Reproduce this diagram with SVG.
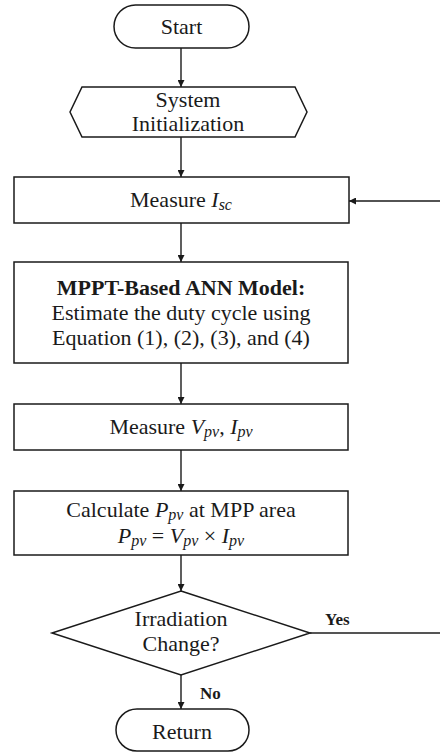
<svg xmlns="http://www.w3.org/2000/svg" width="440" height="752" viewBox="0 0 440 752">
<style>
.shape{fill:#fff;stroke:#1a1a1a;stroke-width:1.5}
.t{font-family:"Liberation Serif","Times New Roman",serif;font-size:22px;fill:#1a1a1a;text-anchor:middle}
.b{font-weight:bold}
.i{font-style:italic}
.s{font-style:italic;font-size:16px}
.lbl{font-family:"Liberation Serif","Times New Roman",serif;font-size:17px;font-weight:bold;fill:#1a1a1a}
.c{fill:none;stroke:#1a1a1a;stroke-width:1.4}
</style>
<defs>
<marker id="ah" viewBox="0 0 10 10" refX="10" refY="5" markerWidth="7" markerHeight="7" markerUnits="userSpaceOnUse" orient="auto">
<path d="M0,0 L10,5 L0,10 z" fill="#1a1a1a"/>
</marker>
</defs>
<rect width="440" height="752" fill="#fff"/>
<g id="connectors">
<line class="c" x1="181" y1="48" x2="181" y2="87" marker-end="url(#ah)"/>
<line class="c" x1="181" y1="137" x2="181" y2="177" marker-end="url(#ah)"/>
<line class="c" x1="181" y1="223" x2="181" y2="262" marker-end="url(#ah)"/>
<line class="c" x1="181" y1="363" x2="181" y2="404" marker-end="url(#ah)"/>
<line class="c" x1="181" y1="450" x2="181" y2="491" marker-end="url(#ah)"/>
<line class="c" x1="181" y1="555" x2="181" y2="591" marker-end="url(#ah)"/>
<line class="c" x1="181" y1="675" x2="181" y2="709" marker-end="url(#ah)"/>
<line class="c" x1="440" y1="201" x2="349" y2="201" marker-end="url(#ah)"/>
<line x1="310" y1="633" x2="440" y2="633" stroke="#555" stroke-width="2"/>
<text class="lbl" x="325" y="625">Yes</text>
<text class="lbl" x="200" y="699">No</text>
</g>
<g id="start">
<rect class="shape" x="114" y="5" width="135" height="43" rx="21.5"/>
<text class="t" x="181.5" y="34">Start</text>
</g>
<g id="init">
<polygon class="shape" points="82,87 295,87 307,112 295,137 82,137 70,112"/>
<text class="t" x="188" y="107">System</text>
<text class="t" x="188" y="131">Initialization</text>
</g>
<g id="measure-isc">
<rect class="shape" x="14" y="177" width="335" height="46"/>
<text class="t" x="181" y="207">Measure <tspan class="i">I</tspan><tspan class="s" dy="3">sc</tspan></text>
</g>
<g id="ann">
<rect class="shape" x="14" y="262" width="334" height="101"/>
<text class="t b" x="181" y="295">MPPT-Based ANN Model:</text>
<text class="t" x="181" y="320">Estimate the duty cycle using</text>
<text class="t" x="181" y="345">Equation (1), (2), (3), and (4)</text>
</g>
<g id="measure-vi">
<rect class="shape" x="14" y="404" width="334" height="46"/>
<text class="t" x="181" y="434">Measure <tspan class="i">V</tspan><tspan class="s" dy="3">pv</tspan><tspan dy="-3">, </tspan><tspan class="i">I</tspan><tspan class="s" dy="3">pv</tspan></text>
</g>
<g id="calc">
<rect class="shape" x="14" y="491" width="334" height="64"/>
<text class="t" x="181" y="517">Calculate <tspan class="i">P</tspan><tspan class="s" dy="3">pv</tspan><tspan dy="-3"> at MPP area</tspan></text>
<text class="t" x="181" y="543"><tspan class="i">P</tspan><tspan class="s" dy="3">pv</tspan><tspan dy="-3"> = </tspan><tspan class="i">V</tspan><tspan class="s" dy="3">pv</tspan><tspan dy="-3"> × </tspan><tspan class="i">I</tspan><tspan class="s" dy="3">pv</tspan></text>
</g>
<g id="decision">
<polygon class="shape" points="181,591 310,633 181,675 52,633"/>
<text class="t" x="181" y="626">Irradiation</text>
<text class="t" x="181" y="651">Change?</text>
</g>
<g id="return">
<rect class="shape" x="116" y="709" width="133" height="42" rx="21"/>
<text class="t" x="182" y="739">Return</text>
</g>
</svg>
